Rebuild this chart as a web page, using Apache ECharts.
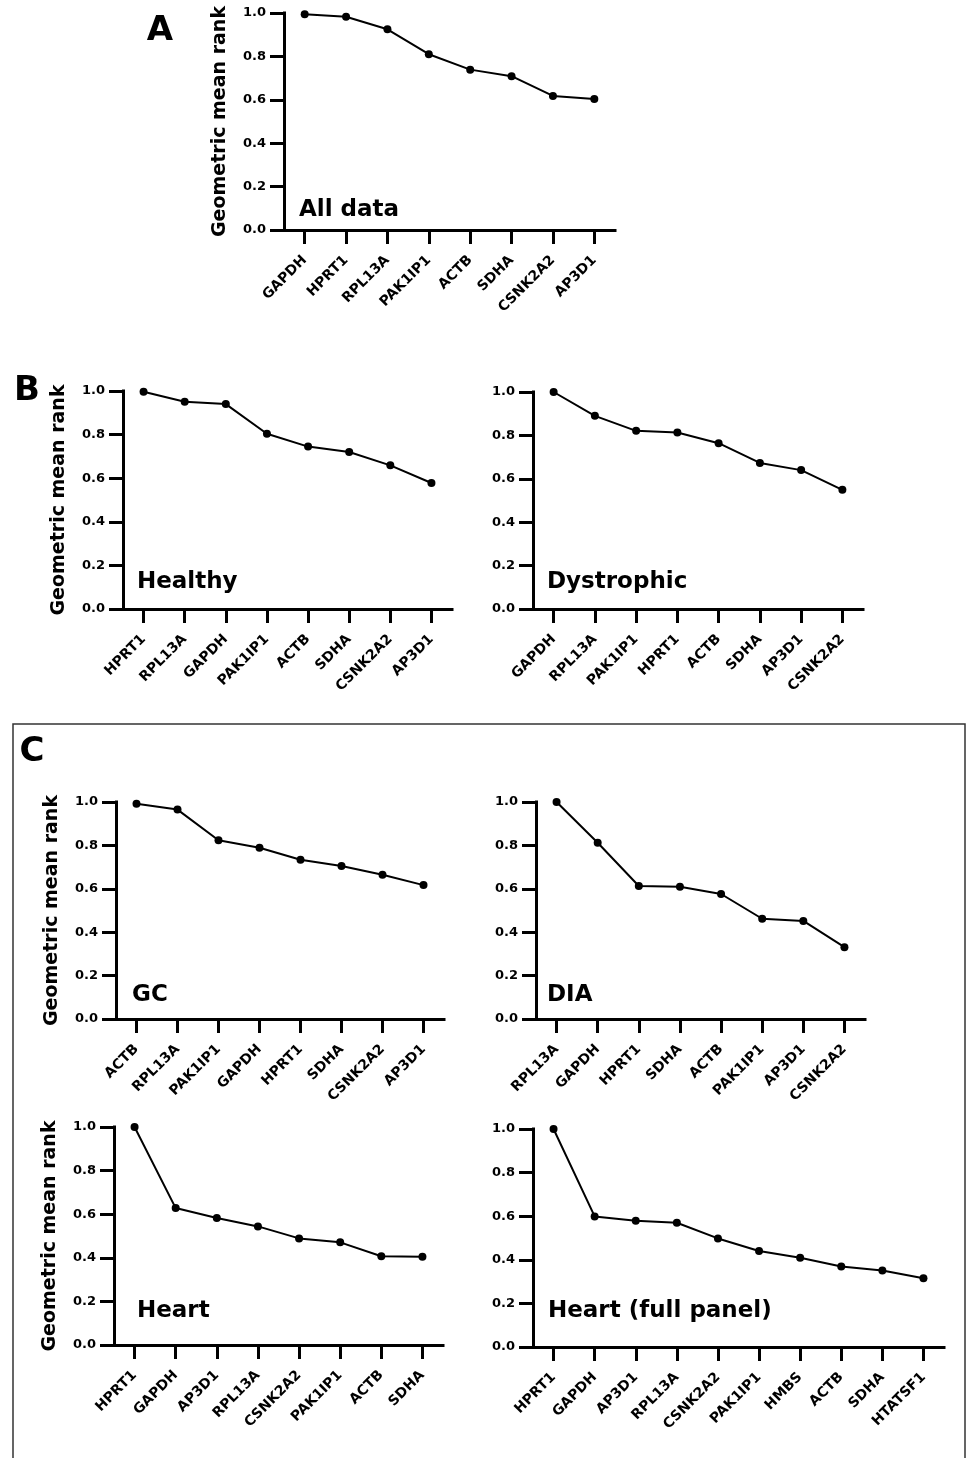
<!DOCTYPE html>
<html>
<head>
<meta charset="utf-8">
<script src="https://cdn.jsdelivr.net/npm/echarts@6/dist/echarts.min.js"></script>
<style>
html,body{margin:0;padding:0;background:#fff;}
#c{width:966px;height:1458px;}
</style>
</head>
<body>
<div id="c"></div>
<script>
// ---- data ----
const catA = ['GAPDH','HPRT1','RPL13A','PAK1IP1','ACTB','SDHA','CSNK2A2','AP3D1'];
const valA = [0.994,0.983,0.925,0.810,0.739,0.709,0.618,0.604];

const catHealthy = ['HPRT1','RPL13A','GAPDH','PAK1IP1','ACTB','SDHA','CSNK2A2','AP3D1'];
const valHealthy = [0.997,0.951,0.940,0.804,0.745,0.720,0.659,0.578];

const catDys = ['GAPDH','RPL13A','PAK1IP1','HPRT1','ACTB','SDHA','AP3D1','CSNK2A2'];
const valDys = [1.0,0.890,0.821,0.813,0.764,0.673,0.640,0.549];

const catGC = ['ACTB','RPL13A','PAK1IP1','GAPDH','HPRT1','SDHA','CSNK2A2','AP3D1'];
const valGC = [0.992,0.965,0.824,0.789,0.734,0.705,0.665,0.617];

const catDIA = ['RPL13A','GAPDH','HPRT1','SDHA','ACTB','PAK1IP1','AP3D1','CSNK2A2'];
const valDIA = [1.0,0.812,0.613,0.609,0.576,0.462,0.452,0.331];

const catHeart = ['HPRT1','GAPDH','AP3D1','RPL13A','CSNK2A2','PAK1IP1','ACTB','SDHA'];
const valHeart = [1.0,0.628,0.583,0.544,0.489,0.471,0.407,0.405];

const catHeartFull = ['HPRT1','GAPDH','AP3D1','RPL13A','CSNK2A2','PAK1IP1','HMBS','ACTB','SDHA','HTATSF1'];
const valHeartFull = [1.0,0.599,0.579,0.570,0.498,0.440,0.409,0.369,0.351,0.315];

const yTickLabels = ['0.0','0.2','0.4','0.6','0.8','1.0'];
const yAxisTitle = 'Geometric mean rank';
const panelNames = ['All data','Healthy','Dystrophic','GC','DIA','Heart','Heart (full panel)'];
const panelLetters = ['A','B','C'];

// ---- layout (positions only) ----
const panels = [
  {cat:catA, val:valA, grid:{left:284,top:13,width:331,height:217}, title:true, lx:299, ly:210},
  {cat:catHealthy, val:valHealthy, grid:{left:123,top:391,width:329,height:218}, title:true, lx:137, ly:582},
  {cat:catDys, val:valDys, grid:{left:533,top:392,width:330,height:217}, title:false, lx:547, ly:582},
  {cat:catGC, val:valGC, grid:{left:116,top:802,width:328,height:217}, title:true, lx:132, ly:995},
  {cat:catDIA, val:valDIA, grid:{left:536,top:802,width:329,height:217}, title:false, lx:547, ly:995},
  {cat:catHeart, val:valHeart, grid:{left:114,top:1127,width:329,height:218}, title:true, lx:137, ly:1311},
  {cat:catHeartFull, val:valHeartFull, grid:{left:533,top:1129,width:411,height:218}, title:false, lx:548, ly:1311}
];
const letterPos = [[160,31],[27,391],[32,752]];

const FONT = 'DejaVu Sans';
const grids=[], xAxes=[], yAxes=[], series=[], graphics=[];
panels.forEach((p,i)=>{
  grids.push(Object.assign({containLabel:false}, p.grid));
  xAxes.push({
    type:'category', gridIndex:i, data:p.cat, boundaryGap:true,
    axisLine:{show:true, lineStyle:{color:'#000', width:3, cap:'square'}},
    axisTick:{show:true, alignWithLabel:true, interval:0, length:14, lineStyle:{color:'#000', width:3}},
    axisLabel:{interval:0, rotate:45, margin:28, color:'#000', fontFamily:FONT, fontWeight:'bold', fontSize:14},
    splitLine:{show:false}
  });
  yAxes.push({
    type:'value', gridIndex:i, min:0, max:1, interval:0.2,
    name: p.title ? yAxisTitle : '', nameLocation:'middle', nameGap:54, nameRotate:90,
    nameTextStyle:{color:'#000', fontFamily:FONT, fontWeight:'bold', fontSize:19},
    axisLine:{show:true, lineStyle:{color:'#000', width:3, cap:'square'}},
    axisTick:{show:true, length:14, lineStyle:{color:'#000', width:3}},
    axisLabel:{margin:18, color:'#000', fontFamily:FONT, fontWeight:'bold', fontSize:13,
      formatter:(v)=>yTickLabels[Math.round(v/0.2)]},
    splitLine:{show:false}
  });
  series.push({
    type:'line', xAxisIndex:i, yAxisIndex:i, data:p.val,
    symbol:'circle', symbolSize:8, showSymbol:true,
    lineStyle:{color:'#000', width:2}, itemStyle:{color:'#000'},
    animation:false, z:5
  });
  graphics.push({type:'text', x:p.lx, y:p.ly, style:{text:panelNames[i], fill:'#000',
    font:'bold 23px "DejaVu Sans"', verticalAlign:'middle', align:'left'}});
});
panelLetters.forEach((t,i)=>{
  graphics.push({type:'text', x:letterPos[i][0], y:letterPos[i][1], style:{text:t, fill:'#000',
    font:'bold 34px "DejaVu Sans"', verticalAlign:'middle', align:'center'}});
});
graphics.push({type:'rect', shape:{x:13, y:724, width:952, height:780},
  style:{fill:'none', stroke:'#333', lineWidth:1.5}, z:-1});

const chart = echarts.init(document.getElementById('c'), null, {renderer:'canvas'});
chart.setOption({
  backgroundColor:'#fff',
  animation:false,
  grid:grids, xAxis:xAxes, yAxis:yAxes, series:series,
  graphic:graphics
});
</script>
</body>
</html>
